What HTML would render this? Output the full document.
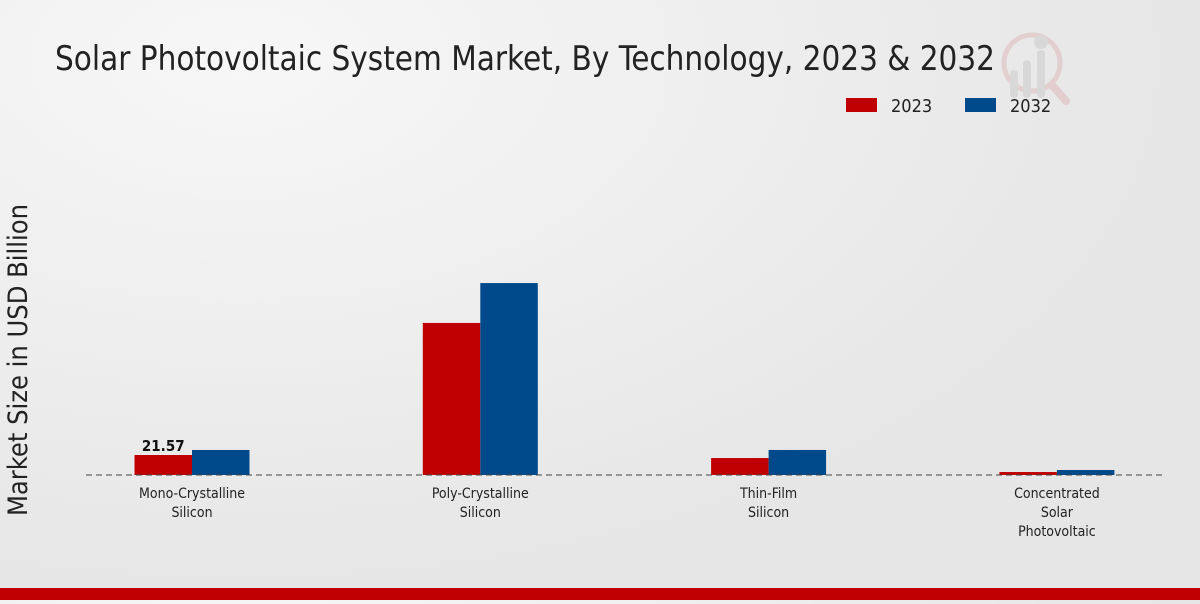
<!DOCTYPE html>
<html><head><meta charset="utf-8"><style>
body{margin:0;width:1200px;height:600px;overflow:hidden;background:radial-gradient(ellipse at 20% 10%,#f7f7f7,#e6e6e6 70%);font-family:"DejaVu Sans Condensed","DejaVu Sans","Liberation Sans",sans-serif;}
</style></head><body>
<svg width="1200" height="600">
<g opacity="0.35">
<circle cx="1032" cy="63" r="28" fill="none" stroke="#d9a0a0" stroke-width="5"/>
<line x1="1052" y1="85" x2="1066" y2="101" stroke="#d9a0a0" stroke-width="8" stroke-linecap="round"/>
<rect x="1010" y="70" width="8" height="28" rx="4" fill="#bbb"/><rect x="1023" y="60" width="8" height="38" rx="4" fill="#bbb"/><rect x="1037" y="50" width="8" height="48" rx="4" fill="#bbb"/>
<circle cx="1041" cy="42" r="7" fill="#bbb"/>
</g>
<text x="55" y="70" font-size="34" fill="#222" textLength="940" lengthAdjust="spacingAndGlyphs">Solar Photovoltaic System Market, By Technology, 2023 &amp; 2032</text>
<rect x="846" y="98" width="31" height="14" fill="#c00000"/>
<text x="891" y="112" font-size="18" fill="#222">2023</text>
<rect x="965" y="98" width="31" height="14" fill="#004a8c"/>
<text x="1010" y="112" font-size="18" fill="#222">2032</text>
<text transform="translate(27,360) rotate(-90)" text-anchor="middle" font-size="27" fill="#222">Market Size in USD Billion</text>
<g id="plot"></g>
<line x1="86" y1="475" x2="1162" y2="475" stroke="#444" stroke-dasharray="6,4"/>
<rect x="0" y="588" width="1200" height="12" fill="#c00000"/>
</svg>
<script>
const categories=[["Mono-Crystalline","Silicon"],["Poly-Crystalline","Silicon"],["Thin-Film","Silicon"],["Concentrated","Solar","Photovoltaic"]];
const values2023=[21.57,164,18.3,3.2];
const values2032=[27,207,27,5.4];
const ns="http://www.w3.org/2000/svg";
const g=document.getElementById('plot');
const base=475, k=20/21.57;
const y=v=>base-v*k;
const xc=i=>192+i*288.3;
function mk(t,a){const e=document.createElementNS(ns,t);for(const n in a)e.setAttribute(n,a[n]);g.appendChild(e);return e;}
categories.forEach((c,i)=>{
 let r=mk('rect',{x:xc(i)-57.5,y:y(values2023[i]),width:57.5,height:base-y(values2023[i]),fill:'#c00000'});
 
 
 r=mk('rect',{x:xc(i),y:y(values2032[i]),width:57.5,height:base-y(values2032[i]),fill:'#004a8c'});
 
 
 c.forEach((l,j)=>{const t=mk('text',{x:xc(i),y:498+j*19,'text-anchor':'middle','font-size':14,fill:'#222'});t.textContent=l;
 
 });
});
const lb=mk('text',{x:xc(0)-28.75,y:y(values2023[0])-4,'text-anchor':'middle','font-size':15,'font-weight':'bold',fill:'#111'});
lb.textContent=values2023[0];


</script>
</body></html>
